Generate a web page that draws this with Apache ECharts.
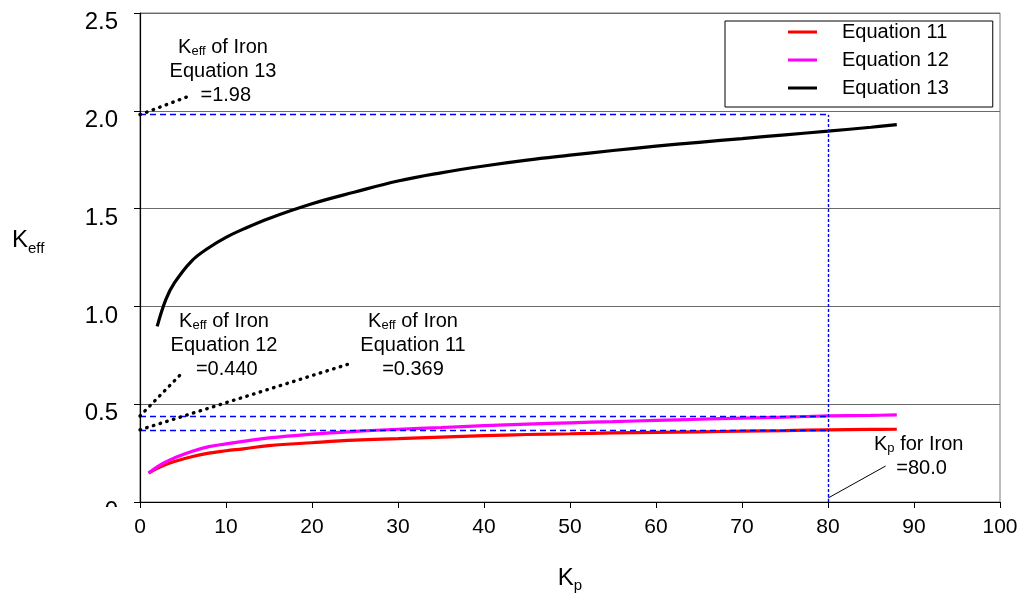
<!DOCTYPE html>
<html>
<head>
<meta charset="utf-8">
<script src="https://cdn.jsdelivr.net/npm/echarts@6/dist/echarts.min.js"></script>
<style>
  html, body { margin: 0; padding: 0; background: #ffffff; }
  #chart { width: 1034px; height: 593px; }
</style>
</head>
<body>
<div id="chart"></div>
<script>
// Permeability ratio Kp (x) against effective value Keff (y)
const kp   = [1, 2, 3, 4, 6, 8, 10, 12, 15, 20, 25, 30, 35, 40, 45, 50, 55, 60, 65, 70, 75, 80, 85, 88];
const eq11 = [0.148, 0.172, 0.192, 0.207, 0.231, 0.250, 0.262, 0.272, 0.288, 0.303, 0.316, 0.324, 0.332, 0.339, 0.345, 0.349, 0.353, 0.356, 0.359, 0.362, 0.365, 0.369, 0.371, 0.372];
const eq12 = [0.148, 0.180, 0.205, 0.225, 0.258, 0.283, 0.297, 0.310, 0.328, 0.347, 0.361, 0.372, 0.381, 0.390, 0.398, 0.405, 0.411, 0.417, 0.423, 0.429, 0.434, 0.440, 0.443, 0.445];
const eq13 = [null, 0.898, 1.035, 1.120, 1.232, 1.300, 1.353, 1.395, 1.450, 1.525, 1.585, 1.641, 1.683, 1.718, 1.748, 1.773, 1.797, 1.819, 1.839, 1.858, 1.877, 1.896, 1.916, 1.929];

const seriesNames = ['Equation 11', 'Equation 12', 'Equation 13'];

const ironKp = 80.0;
const ironKeff11 = 0.369;
const ironKeff12 = 0.440;
const ironKeff13 = 1.98;

// Axis ranges
const xMin = 0, xMax = 100, xStep = 10;
const yMin = 0, yMax = 2.5, yStep = 0.5;

const FONT = "'Liberation Sans', Arial, Helvetica, sans-serif";

function pairs(xs, ys) {
  return xs.map((x, i) => [x, ys[i]]);
}

const dotLine = { type: [0.5, 6.5], cap: 'round', width: 3.4, color: '#000000' };
const blueDash = { type: [6, 4], width: 1.3, color: '#0000ff' };
const blueDot = { type: [3, 2], width: 1.4, color: '#0000ff' };

const richNote = {
  n: { fontSize: 20, lineHeight: 24, fontFamily: FONT, color: '#000' },
  s: { fontSize: 13, lineHeight: 13, fontFamily: FONT, color: '#000', verticalAlign: 'bottom', padding: [0, 0, 1, 0] }
};

function note(x, y, lines) {
  return {
    type: 'text', x: x, y: y, z: 20,
    style: {
      text: lines.join('\n'),
      rich: richNote,
      align: 'center',
      verticalAlign: 'top',
      fill: '#000'
    }
  };
}

const chart = echarts.init(document.getElementById('chart'), null, { renderer: 'canvas' });

const option = {
  backgroundColor: '#ffffff',
  animation: false,
  grid: {
    left: 140, right: 34, top: 13, bottom: 91,
    show: true, borderColor: '#7a7a7a', borderWidth: 1,
    containLabel: false,
    outerBoundsMode: 'none'
  },
  legend: {
    data: seriesNames,
    orient: 'vertical',
    left: 725, top: 21,
    padding: [1, 44, 9, 63],
    itemGap: 8,
    itemWidth: 29,
    itemHeight: 3,
    icon: 'path://M0,0 L29,0 L29,3 L0,3 Z',
    backgroundColor: '#ffffff',
    borderColor: '#000000',
    borderWidth: 1,
    textStyle: { fontSize: 20, lineHeight: 20, fontFamily: FONT, color: '#000', padding: [0, 0, 0, 20] }
  },
  xAxis: {
    type: 'value', min: xMin, max: xMax, interval: xStep,
    axisLine: { show: true, onZero: false, lineStyle: { color: '#000', width: 1.2 } },
    axisTick: { show: true, inside: false, length: 6, lineStyle: { color: '#000' } },
    axisLabel: { fontSize: 21, fontFamily: FONT, color: '#000', margin: 15 },
    splitLine: { show: false },
    name: '{k|K}{s|p}',
    nameLocation: 'middle',
    nameGap: 62,
    nameTextStyle: {
      rich: {
        k: { fontSize: 24, lineHeight: 28, fontFamily: FONT, color: '#000' },
        s: { fontSize: 15, lineHeight: 15, fontFamily: FONT, color: '#000', verticalAlign: 'bottom', padding: [0, 0, -1, 0] }
      }
    }
  },
  yAxis: {
    type: 'value', min: yMin, max: yMax, interval: yStep,
    axisLine: { show: true, onZero: false, lineStyle: { color: '#000', width: 1.2 } },
    axisTick: { show: true, inside: false, length: 6, lineStyle: { color: '#000' } },
    axisLabel: {
      fontSize: 24, fontFamily: FONT, color: '#000', margin: 22,
      verticalAlign: 'top', lineHeight: 19,
      formatter: v => (v === 0 ? '0' : v.toFixed(1))
    },
    splitLine: { show: true, lineStyle: { color: '#6a6a6a', width: 1.2 } }
  },
  graphic: [
    // y-axis title
    {
      type: 'text', x: 12, y: 226, z: 20,
      style: {
        text: '{k|K}{s|eff}',
        rich: {
          k: { fontSize: 24, lineHeight: 28, fontFamily: FONT, color: '#000' },
          s: { fontSize: 15, lineHeight: 15, fontFamily: FONT, color: '#000', verticalAlign: 'bottom', padding: [0, 0, -2, 0] }
        },
        fill: '#000'
      }
    },
    // the lowest y label sits half hidden under the x-label band
    { type: 'rect', shape: { x: 96, y: 507, width: 36, height: 20 }, style: { fill: '#ffffff' }, z: 10 },
    note(223, 35, ['{n|K}{s|eff}{n| of Iron}', '{n|Equation 13}', '{n| =1.98}']),
    note(224, 309, ['{n|K}{s|eff}{n| of Iron}', '{n|Equation 12}', '{n| =0.440}']),
    note(413, 309, ['{n|K}{s|eff}{n| of Iron}', '{n|Equation 11}', '{n|=0.369}']),
    {
      type: 'text', x: 874, y: 432, z: 20,
      style: {
        text: '{n|K}{s|p}{n| for Iron}\n{n|    =80.0}',
        rich: richNote,
        align: 'left', verticalAlign: 'top', fill: '#000'
      }
    }
  ],
  series: [
    {
      name: seriesNames[0], type: 'line', data: pairs(kp, eq11),
      showSymbol: false, symbol: 'none', smooth: 0.4,
      lineStyle: { color: '#ff0000', width: 3.2 }, itemStyle: { color: '#ff0000' }, z: 2
    },
    {
      name: seriesNames[1], type: 'line', data: pairs(kp, eq12),
      showSymbol: false, symbol: 'none', smooth: 0.4,
      lineStyle: { color: '#ff00ff', width: 3.2 }, itemStyle: { color: '#ff00ff' }, z: 3
    },
    {
      name: seriesNames[2], type: 'line', data: pairs(kp, eq13),
      showSymbol: false, symbol: 'none', smooth: 0.4, connectNulls: false,
      lineStyle: { color: '#000000', width: 3.2 }, itemStyle: { color: '#000000' }, z: 3
    },
    {
      // reference lines for iron and the leaders of the notes
      name: 'iron', type: 'line', data: [], z: 6, silent: true,
      markLine: {
        silent: true, symbol: 'none', animation: false,
        label: { show: false },
        data: [
          [{ coord: [xMin, ironKeff13], lineStyle: blueDash }, { coord: [ironKp, ironKeff13] }],
          [{ coord: [xMin, ironKeff12], lineStyle: blueDash }, { coord: [ironKp, ironKeff12] }],
          [{ coord: [xMin, ironKeff11], lineStyle: blueDash }, { coord: [ironKp, ironKeff11] }],
          [{ coord: [ironKp, yMin], lineStyle: blueDot }, { coord: [ironKp, ironKeff13] }],
          [{ coord: [xMin, ironKeff13], lineStyle: dotLine }, { coord: [6.0, 2.08] }],
          [{ coord: [xMin, ironKeff12], lineStyle: dotLine }, { coord: [4.9, 0.66] }],
          [{ coord: [xMin, ironKeff11], lineStyle: dotLine }, { coord: [24.6, 0.71] }],
          [{ coord: [ironKp, 0.02], lineStyle: { type: 'solid', width: 1, color: '#000' } }, { coord: [86.7, 0.184] }]
        ]
      }
    }
  ]
};

chart.setOption(option);
</script>
</body>
</html>
